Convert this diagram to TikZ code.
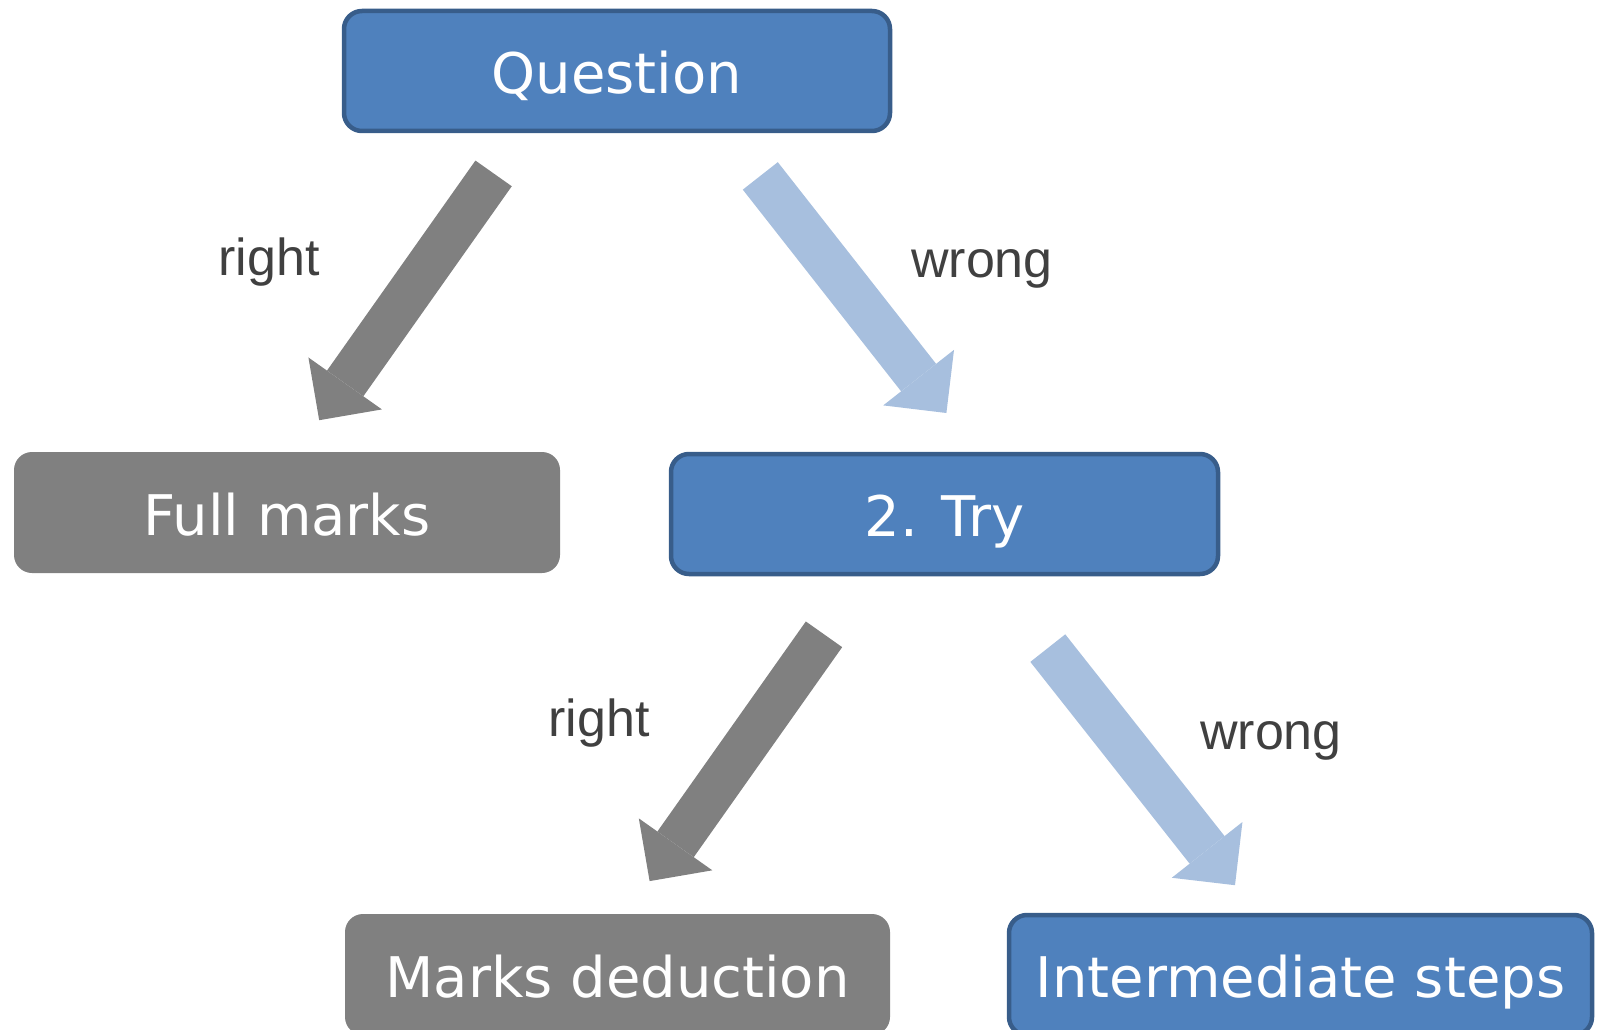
\documentclass[tikz,border=0pt]{standalone}
\usepackage{fontspec}
\usepackage{xcolor}
\usepackage{tikz}
\usetikzlibrary{arrows.meta,calc}
\newfontfamily\boxfont{DejaVu Sans}
\newfontfamily\labfont{Liberation Sans}
\definecolor{qblue}{HTML}{4F81BD}
\definecolor{qedge}{HTML}{385D8A}
\definecolor{qgray}{HTML}{808080}
\definecolor{qlight}{HTML}{A7BFDE}
\definecolor{qtext}{HTML}{404040}

\begin{document}
\begin{tikzpicture}[x=1pt, y=-1pt,
  box/.style={rounded corners=18pt, text=white, font=\boxfont\fontsize{56}{60}\selectfont,
    minimum height=120pt, text height=45pt, text depth=0pt, inner sep=0pt},
  bluebox/.style={box, draw=qedge, line width=4.5pt, fill=qblue},
  graybox/.style={box, fill=qgray, minimum height=121pt},
  lab/.style={font=\labfont\fontsize{52}{56}\selectfont, text=qtext, anchor=base},
  fat/.style={line width=44.5pt, -{Triangle[length=45pt,width=90pt,line width=0pt]}}]
\useasboundingbox (0,0) rectangle (1599,1030);
\node[bluebox, minimum width=546pt] (q) at (617,71) {Question};
\node[graybox, minimum width=546pt] (full) at (287,512.5) {Full marks};
\node[bluebox, minimum width=547pt] (try) at (944.5,514) {2. Try};
\node[graybox, minimum width=545pt] (ded) at (617.5,974.5) {Marks deduction};
\node[bluebox, minimum width=583pt] (steps) at (1300.5,975) {Intermediate steps};
% arrow ends
\coordinate (r1s) at (493.6,173.4); \coordinate (r1e) at (319.2,420.2);
\coordinate (w1s) at (760.3,175.9); \coordinate (w1e) at (946.4,413.0);
\coordinate (r2s) at (824.0,634.3); \coordinate (r2e) at (649.6,881.1);
\coordinate (w2s) at (1047.8,648.1); \coordinate (w2e) at (1235.0,885.2);
\draw[fat, qgray] (r1s) -- (r1e);
\draw[fat, qlight] (w1s) -- (w1e);
\draw[fat, qgray] (r2s) -- (r2e);
\draw[fat, qlight] (w2s) -- (w2e);
% labels
\node[lab] (l1) at (269,275) {right};
\node[lab] (l2) at (982,277) {wrong};
\node[lab] (l3) at (599,736) {right};
\node[lab] (l4) at (1271,749) {wrong};
\end{tikzpicture}
\end{document}
